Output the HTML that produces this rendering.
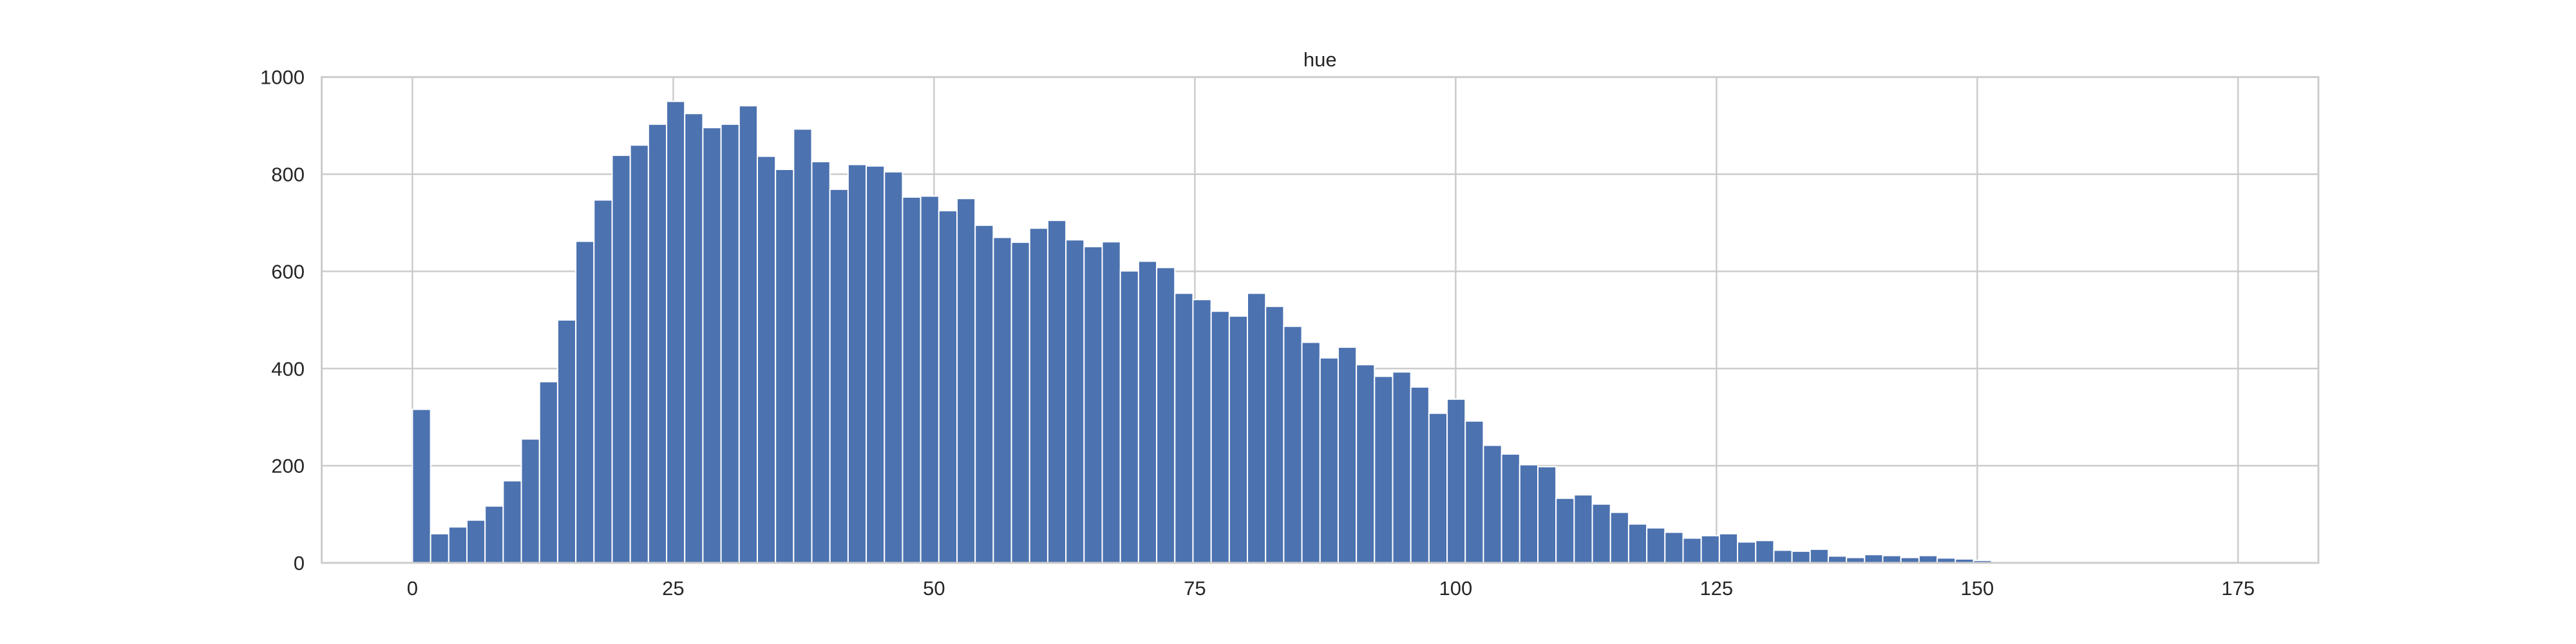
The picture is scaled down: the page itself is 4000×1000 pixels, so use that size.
<!DOCTYPE html>
<html><head><meta charset="utf-8"><style>
html,body{margin:0;padding:0;background:#fff;}
svg{display:block;font-family:"Liberation Sans",Arial,sans-serif;}
</style></head><body>
<svg id="chart" width="4000" height="1000" viewBox="0 0 4000 1000" xmlns="http://www.w3.org/2000/svg">
<g id="grid"></g><g id="bars"></g><g id="frame"></g><g id="labels"></g>
</svg>
<script>
const binStart = 0;
const binEnd = 174;
const counts = [316,60,74,88,117,169,255,373,500,662,747,839,860,903,950,925,896,903,941,837,810,893,826,769,820,817,805,753,755,725,750,695,670,660,689,705,665,651,661,601,621,608,555,542,518,508,555,528,487,454,422,444,408,384,393,362,308,337,292,242,224,202,198,133,140,121,104,80,72,63,51,56,60,43,46,26,24,28,14,11,17,15,11,15,10,8,5,3,2,3,2,1,1,1,1,0,1,0,1,1];
const xTicks = [0,25,50,75,100,125,150,175];
const yTicks = [0,200,400,600,800,1000];
const titleText = "hue";

const NS="http://www.w3.org/2000/svg";
const L=499.5,R=3600,T=119.7,B=874;
const span=binEnd-binStart, xmin=binStart-0.05*span, xmax=binEnd+0.05*span;
const ymax=1000;
const xs=v=>L+(v-xmin)/(xmax-xmin)*(R-L);
const ys=v=>B-(v/ymax)*(B-T);
function mk(tag,attrs,parent){const e=document.createElementNS(NS,tag);for(const k in attrs)e.setAttribute(k,attrs[k]);parent.appendChild(e);return e;}
const grid=document.getElementById('grid'),bars=document.getElementById('bars'),frame=document.getElementById('frame'),labels=document.getElementById('labels');
mk('rect',{x:L,y:T,width:R-L,height:B-T,fill:'#fff'},grid);
yTicks.forEach(t=>{
  const l=mk('line',{x1:L,x2:R,y1:ys(t),y2:ys(t),stroke:'#cccccc','stroke-width':2.5},grid);
  
  
  const tx=mk('text',{x:473,y:ys(t)+11,'text-anchor':'end','font-size':31,fill:'#262626'},labels);
  tx.textContent=t;
  
  
});
xTicks.forEach(t=>{
  const l=mk('line',{x1:xs(t),x2:xs(t),y1:T,y2:B,stroke:'#cccccc','stroke-width':2.5},grid);
  
  
  const tx=mk('text',{x:xs(t),y:924,'text-anchor':'middle','font-size':31,fill:'#262626'},labels);
  tx.textContent=t;
  
  
});
const w=span/counts.length;
counts.forEach((c,i)=>{
  const x0=xs(binStart+i*w),x1=xs(binStart+(i+1)*w);
  const r=mk('rect',{x:x0,y:ys(c),width:x1-x0,height:B-ys(c),fill:'#4c72b0',stroke:'#ffffff','stroke-width':2},bars);
  
  
});
const f=mk('rect',{x:L,y:T,width:R-L,height:B-T,fill:'none',stroke:'#cccccc','stroke-width':3},frame);


const ti=mk('text',{x:(L+R)/2,y:103,'text-anchor':'middle','font-size':31,fill:'#262626'},labels);
ti.textContent=titleText;


</script>
</body></html>
